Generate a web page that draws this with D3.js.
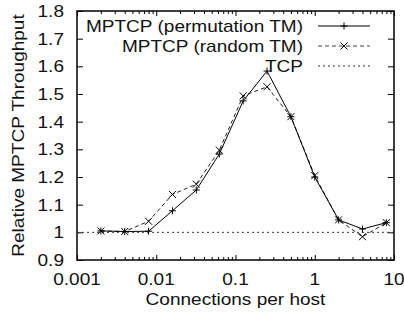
<!DOCTYPE html>
<html><head><meta charset="utf-8">
<script src="https://cdn.jsdelivr.net/npm/d3@7"></script>
<style>body{margin:0;background:#fff}svg{display:block}text{font-family:"Liberation Sans",Arial,sans-serif}</style>
</head><body>
<svg id="c" width="404" height="316"></svg>
<script>
const conns = [0.002, 0.004, 0.008, 0.016, 0.032, 0.0625, 0.125, 0.25, 0.5, 1, 2, 4, 8];
const permutation = [1.005, 1.003, 1.004, 1.078, 1.153, 1.283, 1.475, 1.583, 1.418, 1.200, 1.045, 1.012, 1.035];
const random = [1.005, 1.003, 1.040, 1.137, 1.174, 1.297, 1.493, 1.526, 1.418, 1.205, 1.045, 0.984, 1.035];
const tcp = [1, 1];
const tcpX = [0.001, 10];
const xTicks = [0.001, 0.01, 0.1, 1, 10];
const xTickLabels = ["0.001", "0.01", "0.1", "1", "10"];
const yTicks = [0.9, 1, 1.1, 1.2, 1.3, 1.4, 1.5, 1.6, 1.7, 1.8];
const yTickLabels = ["0.9", "1", "1.1", "1.2", "1.3", "1.4", "1.5", "1.6", "1.7", "1.8"];
const seriesNames = ["MPTCP (permutation TM)", "MPTCP (random TM)", "TCP"];

const L = 77, R = 394, T = 11, B = 260;
const svg = d3.select("#c");
const x = d3.scaleLog().domain([0.001, 10]).range([L, R]);
const y = d3.scaleLinear().domain([0.9, 1.8]).range([B, T]);
const fs = 17, sx = 1.12;

const minor = [];
for (let d = 0.001; d < 10; d *= 10) for (let k = 2; k <= 9; k++) minor.push(d * k);

const g = svg.append("g");
g.append("g").attr("transform", `translate(0,${B})`)
  .call(d3.axisBottom(x).tickValues(xTicks).tickSize(-5).tickFormat(""))
  .call(a => a.select(".domain").remove());
g.append("g").attr("transform", `translate(0,${B})`)
  .call(d3.axisBottom(x).tickValues(minor).tickSize(-3).tickFormat(""))
  .call(a => a.select(".domain").remove());
g.append("g").attr("transform", `translate(0,${T})`)
  .call(d3.axisTop(x).tickValues(xTicks).tickSize(-5).tickFormat(""))
  .call(a => a.select(".domain").remove());
g.append("g").attr("transform", `translate(0,${T})`)
  .call(d3.axisTop(x).tickValues(minor).tickSize(-3).tickFormat(""))
  .call(a => a.select(".domain").remove());
g.append("g").attr("transform", `translate(${L},0)`)
  .call(d3.axisLeft(y).tickValues(yTicks).tickSize(-6).tickFormat(""))
  .call(a => a.select(".domain").remove());
g.append("g").attr("transform", `translate(${R},0)`)
  .call(d3.axisRight(y).tickValues(yTicks).tickSize(-6).tickFormat(""))
  .call(a => a.select(".domain").remove());
g.selectAll(".tick line").attr("stroke", "#000").attr("stroke-width", 1);

function label(px, py, txt, anchor, rot) {
  return svg.append("text")
    .attr("transform", `translate(${px},${py})${rot ? " rotate(-90)" : ""} scale(${sx},1)`)
    .attr("text-anchor", anchor).attr("fill", "#111")
    .style("font-size", fs + "px").text(txt);
}
xTicks.forEach((t, i) => label(x(t), 285, xTickLabels[i], "middle"));
yTicks.forEach((t, i) => label(64, y(t) + 6, yTickLabels[i], "end"));

svg.append("rect").attr("x", L).attr("y", T).attr("width", R - L).attr("height", B - T)
  .attr("fill", "none").attr("stroke", "#000").attr("stroke-width", 1.5);

const line = d3.line().x(d => x(d[0])).y(d => y(d[1]));
svg.append("path").datum(tcpX.map((v,i)=>[v,tcp[i]])).attr("d", line)
  .attr("fill","none").attr("stroke","#333").attr("stroke-width",1).attr("stroke-dasharray","2,3");

const permData = conns.map((c,i)=>[c, permutation[i]]);
const randData = conns.map((c,i)=>[c, random[i]]);
svg.append("path").datum(randData).attr("d", line)
  .attr("fill","none").attr("stroke","#222").attr("stroke-width",1).attr("stroke-dasharray","4,3");
svg.append("path").datum(permData).attr("d", line)
  .attr("fill","none").attr("stroke","#000").attr("stroke-width",1);

const m = 3.5;
function plus(sel, cx, cy) {
  sel.append("path").attr("d", `M${cx-m},${cy}H${cx+m}M${cx},${cy-m}V${cy+m}`).attr("stroke","#000").attr("stroke-width",1);
}
function cross(sel, cx, cy) {
  sel.append("path").attr("d", `M${cx-m},${cy-m}L${cx+m},${cy+m}M${cx-m},${cy+m}L${cx+m},${cy-m}`).attr("stroke","#000").attr("stroke-width",1);
}
permData.forEach(d => plus(svg, x(d[0]), y(d[1])));
randData.forEach(d => cross(svg, x(d[0]), y(d[1])));

const ly = [26, 46, 66];
seriesNames.forEach((n,i) => label(303, ly[i] + 6, n, "end"));
svg.append("line").attr("x1",318).attr("x2",370).attr("y1",ly[0]).attr("y2",ly[0]).attr("stroke","#000");
plus(svg, 344, ly[0]);
svg.append("line").attr("x1",318).attr("x2",370).attr("y1",ly[1]).attr("y2",ly[1]).attr("stroke","#444").attr("stroke-dasharray","4,3");
cross(svg, 344, ly[1]);
svg.append("line").attr("x1",318).attr("x2",370).attr("y1",ly[2]).attr("y2",ly[2]).attr("stroke","#333").attr("stroke-dasharray","2,3");

label((L+R)/2, 305, "Connections per host", "middle");
label(24, (T+B)/2, "Relative MPTCP Throughput", "middle", true);
</script>
</body></html>
